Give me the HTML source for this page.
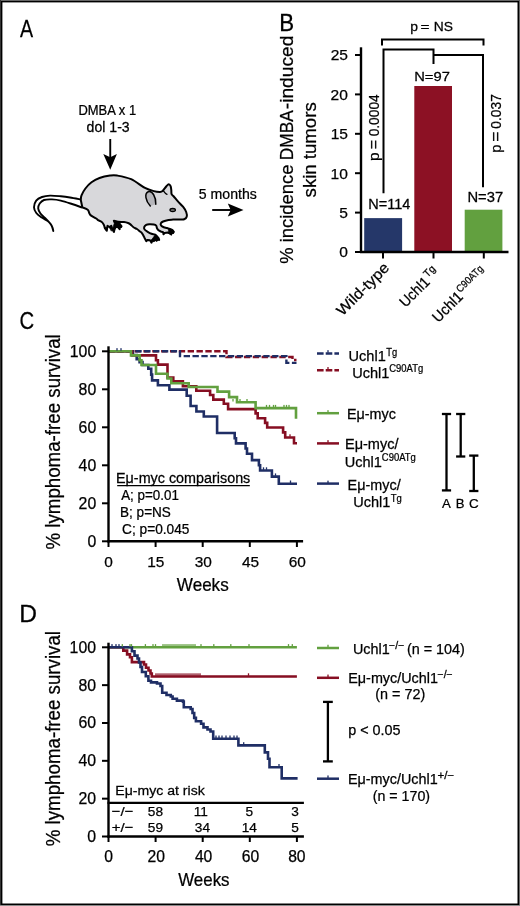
<!DOCTYPE html>
<html><head><meta charset="utf-8"><style>
html,body{margin:0;padding:0;background:#fff;}
svg{display:block;will-change:transform;}
text{font-family:"Liberation Sans", sans-serif;stroke:#000;stroke-width:0.25px;}
</style></head><body>
<svg width="520" height="906" viewBox="0 0 520 906">
<rect x="0" y="0" width="520" height="906" fill="#666"/>
<rect x="0" y="0" width="1" height="906" fill="#333"/>
<rect x="0" y="905" width="520" height="1" fill="#8a8a8a"/>
<rect x="1" y="1" width="518" height="904" fill="#000"/>
<rect x="2.4" y="2.4" width="515.1" height="901.1" fill="#fff"/>
<text transform="translate(19.96,36.9) scale(0.8,1)" font-size="24.56" fill="#000">A</text>
<text transform="translate(78.43,114.9) scale(0.94,1)" font-size="13.81" fill="#000">DMBA x 1</text>
<text transform="translate(86.61,132.3) scale(1.02,1)" font-size="13.81" fill="#000">dol 1-3</text>
<line x1="110.25" y1="139" x2="110.25" y2="158" stroke="#000" stroke-width="1.9"/>
<polygon points="103.3,154.1 110.25,157.2 116.9,154 110.25,169.8" fill="#000"/>
<text transform="translate(198.83,198.6) scale(0.98,1)" font-size="14.39" fill="#000">5 months</text>
<line x1="212.2" y1="210" x2="231" y2="210" stroke="#000" stroke-width="1.9"/>
<polygon points="227.8,203.5 230.7,210 227.8,216.5 243.5,210" fill="#000"/>
<path d="M81,199.6 C79.17,199.25 73.37,198.05 70,197.5 C66.63,196.95 64.13,196.62 60.8,196.3 C57.47,195.98 53.13,195.48 50,195.6 C46.87,195.72 44.3,196.17 42,197 C39.7,197.83 37.53,198.88 36.2,200.6 C34.87,202.32 33.98,205.23 34,207.3 C34.02,209.37 35,211.28 36.3,213 C37.6,214.72 39.97,216.3 41.8,217.6 C43.63,218.9 45.85,219.77 47.3,220.8 C48.75,221.83 49.63,222.68 50.5,223.8 C51.37,224.92 52.03,226.3 52.5,227.5 C52.97,228.7 53.17,230.42 53.3,231 L53.3,231 C53.05,230.17 52.52,227.47 51.8,226 C51.08,224.53 50.13,223.53 49,222.2 C47.87,220.87 46.45,219.5 45,218 C43.55,216.5 41.43,214.8 40.3,213.2 C39.17,211.6 38.3,210.02 38.2,208.4 C38.1,206.78 38.73,204.9 39.7,203.5 C40.67,202.1 41.95,200.68 44,200 C46.05,199.32 49.2,199.3 52,199.4 C54.8,199.5 57.47,199.83 60.8,200.6 C64.13,201.37 68.47,202.85 72,204 C75.53,205.15 80.33,206.92 82,207.5" fill="#fff" stroke="#000" stroke-width="1.9" stroke-linejoin="round"/>
<path d="M80.8,200 C80.92,199.23 80.73,197.32 81.5,195.4 C82.27,193.48 83.73,190.68 85.4,188.5 C87.07,186.32 89.15,184.05 91.5,182.3 C93.85,180.55 96.42,179.12 99.5,178 C102.58,176.88 107.03,176 110,175.6 C112.97,175.2 113.78,175 117.3,175.6 C120.82,176.2 126.48,177.15 131.1,179.2 C135.72,181.25 141.22,185.92 145,187.9 C148.78,189.88 151.3,190.43 153.8,191.1 C156.3,191.77 158.53,191.92 160,191.9 C161.47,191.88 161.57,191.9 162.6,191 C163.63,190.1 165.17,187.63 166.2,186.5 C167.23,185.37 168.07,184.25 168.8,184.2 C169.53,184.15 170.18,185.23 170.6,186.2 C171.02,187.17 171.13,188.67 171.3,190 C171.47,191.33 171.18,193.12 171.6,194.2 C172.02,195.28 172.78,195.33 173.8,196.5 C174.82,197.67 176.17,199.5 177.7,201.2 C179.23,202.9 181.58,204.9 183,206.7 C184.42,208.5 185.58,210.32 186.2,212 C186.82,213.68 187.03,215.58 186.7,216.8 C186.37,218.02 185.32,218.87 184.2,219.3 C183.08,219.73 181.85,219.35 180,219.4 C178.15,219.45 175.02,219.52 173.1,219.6 C171.18,219.68 170.17,219.58 168.5,219.9 C166.83,220.22 164.38,220.92 163.1,221.5 C161.82,222.08 161.12,222.7 160.8,223.4 C160.48,224.1 160.7,225.07 161.2,225.7 C161.7,226.33 162.85,226.82 163.8,227.2 C164.75,227.58 166,227.73 166.9,228 C167.8,228.27 168.82,228.67 169.2,228.8 L172.3,229.9 L173.8,231.8 L173.1,233 L171.5,232.2 L171.2,234.5 L169.6,233.4 L167.7,232.6 L164.6,233 L163.5,234.2 L163.1,232.2 L160.8,231.5 C160.42,231.3 159.15,230.88 158.5,230.3 C157.85,229.72 157.28,228.77 156.9,228 C156.52,227.23 156.72,226.28 156.2,225.7 C155.68,225.12 154.97,224.75 153.8,224.5 C152.63,224.25 150.47,224.13 149.2,224.2 C147.93,224.27 147.03,224.4 146.2,224.9 C145.37,225.4 144.47,226.43 144.2,227.2 C143.93,227.97 144.02,228.73 144.6,229.5 C145.18,230.27 146.55,231.08 147.7,231.8 C148.85,232.52 150.35,233.35 151.5,233.8 C152.65,234.25 153.77,234.18 154.6,234.5 C155.43,234.82 155.85,235.12 156.5,235.7 C157.15,236.28 158.17,237.62 158.5,238 L159.2,239.9 L157.7,239.5 L156.5,240.7 L155.4,239.2 L153.8,241.1 L152.7,239.5 L151.5,242.6 L150,240.3 L147.7,239.9 L146.2,241.1 L144.6,238 C144.35,237.48 143.62,235.8 143.1,234.9 C142.58,234 142.02,233.17 141.5,232.6 C140.98,232.03 140.77,232.1 140,231.5 C139.23,230.9 137.98,229.7 136.9,229 C135.82,228.3 134.58,228.07 133.5,227.3 C132.42,226.53 131.32,225.12 130.4,224.4 C129.48,223.68 129.07,223.38 128,223 C126.93,222.62 125.63,222.3 124,222.1 C122.37,221.9 119.87,222.02 118.2,221.8 C116.53,221.58 114.7,220.97 114,220.8 L117.5,223.2 L121.5,226.2 L121.1,227 L119.8,226.2 L119.6,229.3 L118.3,227.3 L116,226.6 L114.7,228.7 L113.9,231.9 L112.4,229.3 L111.3,225.8 L109.5,227 L107.5,225.8 L106.7,230.8 L104.9,228.2 C104.72,227.62 104.37,225.77 103.8,224.7 C103.23,223.63 102.47,222.57 101.5,221.8 C100.53,221.03 98.88,220.65 98,220.1 C97.12,219.55 97.4,219.28 96.2,218.5 C95,217.72 91.97,216.32 90.8,215.4 C89.63,214.48 89.72,213.95 89.2,213 C88.68,212.05 88.85,210.65 87.7,209.7 C86.55,208.75 83.2,207.7 82.3,207.3 Z" fill="#d8d8db" stroke="#000" stroke-width="2" stroke-linejoin="round"/>
<polygon points="113.2,220.6 117,221.3 120.5,223.5 121.9,226 121.1,227.4 119.9,226.8 119.7,229.6 118.3,228 116.4,227.3 114.9,228.8 114,232.2 112.6,229.2 113.4,226 114.2,223.5" fill="#000" stroke="#000" stroke-width="0.6" stroke-linejoin="round"/>
<polygon points="168.3,228.4 170.8,229 173,230.2 174.1,232 173.2,233.3 171.6,232.6 171.3,234.8 169.6,233.7 168.2,233 168.6,231" fill="#000" stroke="#000" stroke-width="0.6" stroke-linejoin="round"/>
<polygon points="154.6,235.6 156.9,236.2 158.7,238.2 159.4,240.2 157.8,239.9 156.6,241.1 155.4,239.7 153.9,241.4 152.7,239.9 151.6,242.9 150.9,240.5 152.5,238.6" fill="#000" stroke="#000" stroke-width="0.6" stroke-linejoin="round"/>
<polygon points="104.2,227.8 105.5,229.6 106.8,231 107.6,228.8 106.5,227.2" fill="#000" stroke="#000" stroke-width="0.6" stroke-linejoin="round"/>
<polygon points="108.6,226.8 110.2,229 111.3,231.2 112,228.6 110.6,226.2" fill="#000" stroke="#000" stroke-width="0.6" stroke-linejoin="round"/>
<path d="M150.3,206 C145.5,201 144.2,193.5 148.2,191.8 C152.2,190.3 156.2,197 155.8,204.3" fill="#b5b5ba" stroke="#000" stroke-width="1.5" stroke-linecap="round"/>
<path d="M163.2,190.6 C164.5,192.5 165.8,193.8 167,194.3" fill="none" stroke="#000" stroke-width="1.3" stroke-linecap="round"/>
<ellipse cx="172.7" cy="210" rx="2.7" ry="1.5" fill="#888" stroke="#000" stroke-width="1.3"/>
<text transform="translate(279.37,30.5) scale(0.92,1)" font-size="24.27" fill="#000">B</text>
<text transform="translate(292.8,263.85) rotate(-90) scale(0.97,1)" font-size="19" fill="#000">% incidence</text>
<text transform="translate(292.8,160.22) rotate(-90) scale(0.91,1)" font-size="19" fill="#000">DMBA</text>
<text transform="translate(292.8,109.25) rotate(-90) scale(1.01,1)" font-size="19" fill="#000">-induced</text>
<text transform="translate(316.2,197.42) rotate(-90) scale(0.98,1)" font-size="19" fill="#000">skin tumors</text>
<rect x="364.2" y="218.12" width="37.9" height="32.88" fill="#253769"/>
<rect x="414.3" y="86" width="37.7" height="165" fill="#8c1124"/>
<rect x="464.7" y="209.7" width="37.7" height="41.3" fill="#62a03f"/>
<line x1="361" y1="47.3" x2="361" y2="253" stroke="#000" stroke-width="2.4"/>
<line x1="360" y1="252" x2="508.5" y2="252" stroke="#000" stroke-width="2.4"/>
<line x1="355" y1="252" x2="361" y2="252" stroke="#000" stroke-width="2"/>
<text transform="translate(339.26,257.3) scale(1,1)" font-size="15.55" fill="#000">0</text>
<line x1="355" y1="212.6" x2="361" y2="212.6" stroke="#000" stroke-width="2"/>
<text transform="translate(339.3,217.9) scale(1,1)" font-size="15.55" fill="#000">5</text>
<line x1="355" y1="173.2" x2="361" y2="173.2" stroke="#000" stroke-width="2"/>
<text transform="translate(330.61,178.5) scale(1,1)" font-size="15.55" fill="#000">10</text>
<line x1="355" y1="133.8" x2="361" y2="133.8" stroke="#000" stroke-width="2"/>
<text transform="translate(330.65,139.1) scale(1,1)" font-size="15.55" fill="#000">15</text>
<line x1="355" y1="94.4" x2="361" y2="94.4" stroke="#000" stroke-width="2"/>
<text transform="translate(330.61,99.7) scale(1,1)" font-size="15.55" fill="#000">20</text>
<line x1="355" y1="55" x2="361" y2="55" stroke="#000" stroke-width="2"/>
<text transform="translate(330.65,60.3) scale(1,1)" font-size="15.55" fill="#000">25</text>
<line x1="383" y1="252" x2="383" y2="258.5" stroke="#000" stroke-width="2"/>
<line x1="433.5" y1="252" x2="433.5" y2="258.5" stroke="#000" stroke-width="2"/>
<line x1="483.8" y1="252" x2="483.8" y2="258.5" stroke="#000" stroke-width="2"/>
<text transform="translate(368.21,209.2) scale(1.04,1)" font-size="13.95" fill="#000">N=114</text>
<text transform="translate(414.19,80.6) scale(1.08,1)" font-size="13.66" fill="#000">N=97</text>
<text transform="translate(467.38,202) scale(1.06,1)" font-size="13.95" fill="#000">N=37</text>
<polyline points="382,45.5 382,39.5 483.5,39.5 483.5,45.5" fill="none" stroke="#000" stroke-width="2"/>
<polyline points="383.5,193.2 383.5,49.5 433.5,49.5 433.5,64" fill="none" stroke="#000" stroke-width="2"/>
<polyline points="433.5,55 483,55 483,187.3" fill="none" stroke="#000" stroke-width="2"/>
<text transform="translate(410.35,30.5) scale(1.07,1)" font-size="13" fill="#000">p</text>
<text transform="translate(420.5,30.5) scale(1.19,1)" font-size="13" fill="#000">=</text>
<text transform="translate(433.86,30.5) scale(1.07,1)" font-size="12.94" fill="#000">NS</text>
<text transform="translate(378.7,160.99) rotate(-90) scale(1.04,1)" font-size="14.8" fill="#000">p</text>
<text transform="translate(378.7,149.28) rotate(-90) scale(1.08,1)" font-size="14.8" fill="#000">=</text>
<text transform="translate(378.7,136.34) rotate(-90) scale(0.91,1)" font-size="15.12" fill="#000">0.0004</text>
<text transform="translate(501.3,152.65) rotate(-90) scale(0.99,1)" font-size="14.8" fill="#000">p</text>
<text transform="translate(501.3,141.64) rotate(-90) scale(1.17,1)" font-size="14.8" fill="#000">=</text>
<text transform="translate(501.3,128.64) rotate(-90) scale(0.93,1)" font-size="14.83" fill="#000">0.037</text>
<g transform="translate(389.5,269.4) rotate(-45)"><text transform="translate(-66.57,0) scale(1.08,1)" font-size="15" fill="#000">Wild-type</text></g>
<g transform="translate(430.3,283.3) rotate(-45)"><text transform="translate(-35.08,0) scale(0.93,1)" font-size="15" fill="#000">Uchl1</text><text transform="translate(1.76,-5.8) scale(1,1)" font-size="10.5" fill="#000">Tg</text></g>
<g transform="translate(463.4,298.1) rotate(-45)"><text transform="translate(-35.6,0) scale(0.95,1)" font-size="15" fill="#000">Uchl1</text><text transform="translate(1.43,-5.8) scale(0.9,1)" font-size="10.3" fill="#000">C90ATg</text></g>
<text transform="translate(19.47,329.1) scale(0.82,1)" font-size="24.71" fill="#000">C</text>
<text transform="translate(59.7,549.57) rotate(-90) scale(0.96,1)" font-size="19.5" fill="#000">% lymphoma-free survival</text>
<polyline points="108.5,351.3 226.5,351.3 226.5,357 292.5,357 292.5,360 296.5,360" fill="none" stroke="#860e22" stroke-width="2.4" stroke-dasharray="6.35,2.5" stroke-dashoffset="0.5"/>
<polyline points="108.5,351.3 180,351.3 180,356.1 286.4,356.1 286.4,362.9 296.5,362.9" fill="none" stroke="#1f2e65" stroke-width="2.4" stroke-dasharray="6.35,2.5" stroke-dashoffset="-0.3"/>
<polyline points="108.5,351.3 132.9,351.3 132.9,355 136.7,355 136.7,359.2 139.6,359.2 139.6,362.1 142.5,362.1 142.5,365 148.3,365 148.3,368.8 151.2,368.8 151.2,374.6 152.1,374.6 152.1,380.4 157.9,380.4 157.9,385.2 169.4,385.2 169.4,389.6 186.7,389.6 186.7,395.8 190.6,395.8 190.6,406 196.4,406 196.4,411.5 203.8,411.5 203.8,416.5 217.1,416.5 217.1,433 234.7,433 234.7,438.2 236,438.2 236,443.4 245.6,443.4 245.6,448.5 247,448.5 247,453.7 252,453.7 252,460.1 258.9,460.1 258.9,465.3 260.1,465.3 260.1,470.5 271.9,470.5 271.9,476.6 278.8,476.6 278.8,483.7 297,483.7" fill="none" stroke="#1f2e65" stroke-width="2.6"/>
<polyline points="108.5,351.3 132,351.3 132,355.4 156,355.4 156,360.2 157.9,360.2 157.9,364.6 167.5,364.6 167.5,377.5 173.3,377.5 173.3,381.3 182.9,381.3 182.9,386.2 196.3,386.2 196.3,390.7 210.1,390.7 210.1,395 213.3,395 213.3,399.6 223.8,399.6 223.8,403.8 228.1,403.8 228.1,409.1 255.6,409.1 255.6,413.4 257.7,413.4 257.7,418.2 265.1,418.2 265.1,422.9 267.2,422.9 267.2,427.5 283.1,427.5 283.1,432.4 285.2,432.4 285.2,437.5 294,437.5 294,443.2 297,443.2" fill="none" stroke="#860e22" stroke-width="2.6"/>
<polyline points="108.5,351.3 131,351.3 131,355.4 139.6,355.4 139.6,360.2 141.5,360.2 141.5,365 156,365 156,373.7 167.5,373.7 167.5,378.5 171.3,378.5 171.3,383.3 188.7,383.3 188.7,387 217.5,387 217.5,391.6 229.1,391.6 229.1,397.1 237,397.1 237,402.2 255.6,402.2 255.6,408.1 296,408.1 296,418.8" fill="none" stroke="#62a03f" stroke-width="2.6"/>
<line x1="108.5" y1="346.3" x2="108.5" y2="542.4" stroke="#000" stroke-width="2.4"/>
<line x1="107.5" y1="541.3" x2="303.1" y2="541.3" stroke="#000" stroke-width="2.4"/>
<line x1="102" y1="541.3" x2="108.5" y2="541.3" stroke="#000" stroke-width="2"/>
<text transform="translate(87.41,546.7) scale(1,1)" font-size="15.84" fill="#000">0</text>
<line x1="102" y1="503.3" x2="108.5" y2="503.3" stroke="#000" stroke-width="2"/>
<text transform="translate(78.6,508.7) scale(1,1)" font-size="15.84" fill="#000">20</text>
<line x1="102" y1="465.3" x2="108.5" y2="465.3" stroke="#000" stroke-width="2"/>
<text transform="translate(78.6,470.7) scale(1,1)" font-size="15.84" fill="#000">40</text>
<line x1="102" y1="427.3" x2="108.5" y2="427.3" stroke="#000" stroke-width="2"/>
<text transform="translate(78.6,432.7) scale(1,1)" font-size="15.84" fill="#000">60</text>
<line x1="102" y1="389.3" x2="108.5" y2="389.3" stroke="#000" stroke-width="2"/>
<text transform="translate(78.6,394.7) scale(1,1)" font-size="15.84" fill="#000">80</text>
<line x1="102" y1="351.3" x2="108.5" y2="351.3" stroke="#000" stroke-width="2"/>
<text transform="translate(69.79,356.7) scale(1,1)" font-size="15.84" fill="#000">100</text>
<line x1="108.5" y1="541.3" x2="108.5" y2="547" stroke="#000" stroke-width="2"/>
<text transform="translate(104.22,567.1) scale(1,1)" font-size="15.41" fill="#000">0</text>
<line x1="155.6" y1="541.3" x2="155.6" y2="547" stroke="#000" stroke-width="2"/>
<text transform="translate(147.27,567.1) scale(1,1)" font-size="15.41" fill="#000">15</text>
<line x1="202.7" y1="541.3" x2="202.7" y2="547" stroke="#000" stroke-width="2"/>
<text transform="translate(194.64,567.1) scale(1,1)" font-size="15.41" fill="#000">30</text>
<line x1="249.8" y1="541.3" x2="249.8" y2="547" stroke="#000" stroke-width="2"/>
<text transform="translate(241.88,567.1) scale(1,1)" font-size="15.41" fill="#000">45</text>
<line x1="296.9" y1="541.3" x2="296.9" y2="547" stroke="#000" stroke-width="2"/>
<text transform="translate(288.74,567.1) scale(1,1)" font-size="15.41" fill="#000">60</text>
<text transform="translate(176.83,590.8) scale(0.94,1)" font-size="18.17" fill="#000">Weeks</text>
<text transform="translate(116.02,482.5) scale(1.04,1)" font-size="13.81" fill="#000">Eμ-myc comparisons</text>
<line x1="117.2" y1="485.6" x2="249.8" y2="485.6" stroke="#000" stroke-width="1.1"/>
<text transform="translate(121.17,499.7) scale(0.97,1)" font-size="13.81" fill="#000">A; p=0.01</text>
<text transform="translate(120.09,516.5) scale(0.98,1)" font-size="13.81" fill="#000">B; p=NS</text>
<text transform="translate(122.11,534.1) scale(0.99,1)" font-size="13.81" fill="#000">C; p=0.045</text>
<polyline points="317,353.4 339,353.4" fill="none" stroke="#1f2e65" stroke-width="2.5" stroke-dasharray="6.6,2.1"/>
<polyline points="317,370.3 339,370.3" fill="none" stroke="#860e22" stroke-width="2.5" stroke-dasharray="6.6,2.1"/>
<line x1="317" y1="413.2" x2="339" y2="413.2" stroke="#62a03f" stroke-width="2.5"/>
<line x1="317" y1="443.4" x2="339" y2="443.4" stroke="#860e22" stroke-width="2.5"/>
<line x1="317" y1="483.6" x2="339" y2="483.6" stroke="#1f2e65" stroke-width="2.5"/>
<text transform="translate(348.58,361.2) scale(1,1)" font-size="14.54" fill="#000">Uchl1</text>
<text transform="translate(386.29,355.5) scale(0.92,1)" font-size="10.17" fill="#000">Tg</text>
<text transform="translate(352.28,377.6) scale(1,1)" font-size="14.54" fill="#000">Uchl1</text>
<text transform="translate(389.22,372) scale(0.93,1)" font-size="10.17" fill="#000">C90ATg</text>
<text transform="translate(346.92,418.5) scale(1.04,1)" font-size="13.81" fill="#000">Eμ-myc</text>
<text transform="translate(345.01,448.5) scale(1.03,1)" font-size="14.1" fill="#000">Eμ-myc/</text>
<text transform="translate(344.68,467) scale(1,1)" font-size="14.54" fill="#000">Uchl1</text>
<text transform="translate(381.82,461.4) scale(0.93,1)" font-size="10.17" fill="#000">C90ATg</text>
<text transform="translate(347.62,489.6) scale(1.02,1)" font-size="14.1" fill="#000">Eμ-myc/</text>
<text transform="translate(353.18,507.4) scale(1,1)" font-size="14.54" fill="#000">Uchl1</text>
<text transform="translate(390.79,501.7) scale(0.93,1)" font-size="10.17" fill="#000">Tg</text>
<line x1="446.5" y1="414" x2="446.5" y2="490.4" stroke="#000" stroke-width="2.3"/>
<line x1="441.9" y1="414" x2="451.1" y2="414" stroke="#000" stroke-width="2.3"/>
<line x1="441.9" y1="490.4" x2="451.1" y2="490.4" stroke="#000" stroke-width="2.3"/>
<line x1="460.7" y1="414" x2="460.7" y2="456.5" stroke="#000" stroke-width="2.3"/>
<line x1="456.1" y1="414" x2="465.3" y2="414" stroke="#000" stroke-width="2.3"/>
<line x1="456.1" y1="456.5" x2="465.3" y2="456.5" stroke="#000" stroke-width="2.3"/>
<line x1="473.8" y1="455.6" x2="473.8" y2="491" stroke="#000" stroke-width="2.3"/>
<line x1="469.2" y1="455.6" x2="478.4" y2="455.6" stroke="#000" stroke-width="2.3"/>
<line x1="469.2" y1="491" x2="478.4" y2="491" stroke="#000" stroke-width="2.3"/>
<text transform="translate(442.07,508.3) scale(0.97,1)" font-size="13.66" fill="#000">A</text>
<text transform="translate(455.82,508.3) scale(0.96,1)" font-size="13.66" fill="#000">B</text>
<text transform="translate(469.02,508.3) scale(0.98,1)" font-size="13.66" fill="#000">C</text>
<text transform="translate(19.18,621.9) scale(1.05,1)" font-size="23.4" fill="#000">D</text>
<text transform="translate(59.5,846.27) rotate(-90) scale(0.96,1)" font-size="19.5" fill="#000">% lymphoma-free survival</text>
<polyline points="108.5,647.3 296.9,647.3" fill="none" stroke="#62a03f" stroke-width="2.6"/>
<polyline points="108.5,647.3 123.3,647.3 123.3,650.6 127.1,650.6 127.1,654.4 130,654.4 130,657.3 131.9,657.3 131.9,662.1 144,662.1 144,664.5 146,664.5 146,667.7 148.5,667.7 148.5,670.5 150.5,670.5 150.5,673.5 151.8,673.5 151.8,676.5 296.9,676.5" fill="none" stroke="#860e22" stroke-width="2.6"/>
<polyline points="108.5,647.3 131.9,647.3 131.9,651.2 134.5,651.2 134.5,655.6 137.5,655.6 137.5,658.5 139,658.5 139,662.5 140.5,662.5 140.5,667 142,667 142,672 145.8,672 145.8,676.3 148.4,676.3 148.4,680.7 151,680.7 151,682.4 157,682.4 157,683.5 160.5,683.5 160.5,686 162.2,686 162.2,692.8 166.5,692.8 166.5,695 170.8,695 170.8,696.5 172.6,696.5 172.6,698.8 176.9,698.8 176.9,700.6 183,700.6 183,701.6 183.8,701.6 183.8,707.3 190.7,707.3 190.7,709 192.5,709 192.5,713 194.2,713 194.2,717.9 195.9,717.9 195.9,721.3 201.1,721.3 201.1,723.8 203.5,723.8 203.5,727.4 207.5,727.4 207.5,729.5 210.5,729.5 210.5,731.5 213.2,731.5 213.2,738.7 238.4,738.7 238.4,745.4 264.8,745.4 264.8,752.4 268,752.4 268,758.8 269.5,758.8 269.5,767.2 281.7,767.2 281.7,778.4 297.6,778.4" fill="none" stroke="#1f2e65" stroke-width="2.6"/>
<line x1="108.5" y1="642.7" x2="108.5" y2="837.6" stroke="#000" stroke-width="2.4"/>
<line x1="107.5" y1="836.5" x2="303.9" y2="836.5" stroke="#000" stroke-width="2.4"/>
<line x1="107.5" y1="802.9" x2="303.9" y2="802.9" stroke="#000" stroke-width="2.4"/>
<line x1="102" y1="836.5" x2="108.5" y2="836.5" stroke="#000" stroke-width="2"/>
<text transform="translate(87.21,841.9) scale(1,1)" font-size="15.84" fill="#000">0</text>
<line x1="102" y1="798.66" x2="108.5" y2="798.66" stroke="#000" stroke-width="2"/>
<text transform="translate(78.4,804.06) scale(1,1)" font-size="15.84" fill="#000">20</text>
<line x1="102" y1="760.82" x2="108.5" y2="760.82" stroke="#000" stroke-width="2"/>
<text transform="translate(78.4,766.22) scale(1,1)" font-size="15.84" fill="#000">40</text>
<line x1="102" y1="722.98" x2="108.5" y2="722.98" stroke="#000" stroke-width="2"/>
<text transform="translate(78.4,728.38) scale(1,1)" font-size="15.84" fill="#000">60</text>
<line x1="102" y1="685.14" x2="108.5" y2="685.14" stroke="#000" stroke-width="2"/>
<text transform="translate(78.4,690.54) scale(1,1)" font-size="15.84" fill="#000">80</text>
<line x1="102" y1="647.3" x2="108.5" y2="647.3" stroke="#000" stroke-width="2"/>
<text transform="translate(69.59,652.7) scale(1,1)" font-size="15.84" fill="#000">100</text>
<line x1="108.5" y1="836.5" x2="108.5" y2="842" stroke="#000" stroke-width="2"/>
<text transform="translate(104.13,862.3) scale(1,1)" font-size="15.7" fill="#000">0</text>
<line x1="155.6" y1="836.5" x2="155.6" y2="842" stroke="#000" stroke-width="2"/>
<text transform="translate(147.58,862.3) scale(1,1)" font-size="15.7" fill="#000">20</text>
<line x1="202.7" y1="836.5" x2="202.7" y2="842" stroke="#000" stroke-width="2"/>
<text transform="translate(194.9,862.3) scale(1,1)" font-size="15.7" fill="#000">40</text>
<line x1="249.8" y1="836.5" x2="249.8" y2="842" stroke="#000" stroke-width="2"/>
<text transform="translate(241.78,862.3) scale(1,1)" font-size="15.7" fill="#000">60</text>
<line x1="296.9" y1="836.5" x2="296.9" y2="842" stroke="#000" stroke-width="2"/>
<text transform="translate(288.14,862.3) scale(1,1)" font-size="15.7" fill="#000">80</text>
<text transform="translate(178.23,886) scale(0.93,1)" font-size="18.17" fill="#000">Weeks</text>
<text transform="translate(115.35,794.8) scale(1.03,1)" font-size="13.66" fill="#000">Eμ-myc at risk</text>
<text transform="translate(111.76,816.3) scale(1.1,1)" font-size="13.66" fill="#000">−/−</text>
<text transform="translate(111.77,831.7) scale(1.1,1)" font-size="13.66" fill="#000">+/−</text>
<text transform="translate(147.82,816.3) scale(1,1)" font-size="13.66" fill="#000">58</text>
<text transform="translate(193.71,816.3) scale(1,1)" font-size="13.66" fill="#000">11</text>
<text transform="translate(245.61,816.3) scale(1,1)" font-size="13.66" fill="#000">5</text>
<text transform="translate(291.34,816.3) scale(1,1)" font-size="13.66" fill="#000">3</text>
<text transform="translate(147.85,831.7) scale(1,1)" font-size="13.66" fill="#000">59</text>
<text transform="translate(194.84,831.7) scale(1,1)" font-size="13.66" fill="#000">34</text>
<text transform="translate(241.68,831.7) scale(1,1)" font-size="13.66" fill="#000">14</text>
<text transform="translate(291.31,831.7) scale(1,1)" font-size="13.66" fill="#000">5</text>
<line x1="317" y1="648" x2="339" y2="648" stroke="#62a03f" stroke-width="2.5"/>
<line x1="317" y1="677.8" x2="339" y2="677.8" stroke="#860e22" stroke-width="2.5"/>
<line x1="317" y1="778.7" x2="339" y2="778.7" stroke="#1f2e65" stroke-width="2.5"/>
<text transform="translate(352.89,654.1) scale(1,1)" font-size="14.39" fill="#000">Uchl1</text>
<text transform="translate(389.08,649) scale(1.04,1)" font-size="10.17" fill="#000">−/−</text>
<text transform="translate(406.91,654.1) scale(1,1)" font-size="14.39" fill="#000">(n = 104)</text>
<text transform="translate(348.22,682.7) scale(1,1)" font-size="14.39" fill="#000">Eμ-myc/Uchl1</text>
<text transform="translate(437.48,677.6) scale(1.04,1)" font-size="10.17" fill="#000">−/−</text>
<text transform="translate(375.31,699) scale(1,1)" font-size="14.39" fill="#000">(n = 72)</text>
<line x1="327.9" y1="701.9" x2="327.9" y2="761.4" stroke="#000" stroke-width="2.3"/>
<line x1="323" y1="701.9" x2="332.8" y2="701.9" stroke="#000" stroke-width="2.3"/>
<line x1="323" y1="761.4" x2="332.8" y2="761.4" stroke="#000" stroke-width="2.3"/>
<text transform="translate(348.18,734.6) scale(1,1)" font-size="14.39" fill="#000">p &lt; 0.05</text>
<text transform="translate(347.91,784.3) scale(1,1)" font-size="14.39" fill="#000">Eμ-myc/Uchl1</text>
<text transform="translate(437.43,779.2) scale(1.14,1)" font-size="10.17" fill="#000">+/−</text>
<text transform="translate(372.72,801) scale(0.99,1)" font-size="14.39" fill="#000">(n = 170)</text>
<rect x="116.35" y="348.15" width="1.3" height="2.5" fill="#1f2e65"/>
<rect x="120.35" y="348.15" width="1.3" height="2.5" fill="#1f2e65"/>
<rect x="265.85" y="404.9" width="1.3" height="2.5" fill="#62a03f"/>
<rect x="268.85" y="404.9" width="1.3" height="2.5" fill="#62a03f"/>
<rect x="272.85" y="404.9" width="1.3" height="2.5" fill="#62a03f"/>
<rect x="274.85" y="404.9" width="1.3" height="2.5" fill="#62a03f"/>
<rect x="283.35" y="404.9" width="1.3" height="2.5" fill="#62a03f"/>
<rect x="285.85" y="404.9" width="1.3" height="2.5" fill="#62a03f"/>
<rect x="288.35" y="404.9" width="1.3" height="2.5" fill="#62a03f"/>
<rect x="262.85" y="467.3" width="1.3" height="2.5" fill="#1f2e65"/>
<rect x="265.85" y="467.3" width="1.3" height="2.5" fill="#1f2e65"/>
<rect x="274.85" y="473.4" width="1.3" height="2.5" fill="#1f2e65"/>
<rect x="289.85" y="480.5" width="1.3" height="2.5" fill="#1f2e65"/>
<rect x="232.35" y="399" width="1.3" height="2.5" fill="#62a03f"/>
<rect x="239.35" y="399" width="1.3" height="2.5" fill="#62a03f"/>
<rect x="246.35" y="399" width="1.3" height="2.5" fill="#62a03f"/>
<rect x="289.35" y="434.3" width="1.3" height="2.5" fill="#860e22"/>
<rect x="121.65" y="644.1" width="1.3" height="2.5" fill="#62a03f"/>
<rect x="129.35" y="644.1" width="1.3" height="2.5" fill="#62a03f"/>
<rect x="130.85" y="644.1" width="1.3" height="2.5" fill="#62a03f"/>
<rect x="144.75" y="644.1" width="1.3" height="2.5" fill="#62a03f"/>
<rect x="152.35" y="644.1" width="1.3" height="2.5" fill="#62a03f"/>
<rect x="154.85" y="644.1" width="1.3" height="2.5" fill="#62a03f"/>
<rect x="162.35" y="644.1" width="1.3" height="2.5" fill="#62a03f"/>
<rect x="164.35" y="644.1" width="1.3" height="2.5" fill="#62a03f"/>
<rect x="166.35" y="644.1" width="1.3" height="2.5" fill="#62a03f"/>
<rect x="168.35" y="644.1" width="1.3" height="2.5" fill="#62a03f"/>
<rect x="170.35" y="644.1" width="1.3" height="2.5" fill="#62a03f"/>
<rect x="172.35" y="644.1" width="1.3" height="2.5" fill="#62a03f"/>
<rect x="174.35" y="644.1" width="1.3" height="2.5" fill="#62a03f"/>
<rect x="176.35" y="644.1" width="1.3" height="2.5" fill="#62a03f"/>
<rect x="178.35" y="644.1" width="1.3" height="2.5" fill="#62a03f"/>
<rect x="180.35" y="644.1" width="1.3" height="2.5" fill="#62a03f"/>
<rect x="182.35" y="644.1" width="1.3" height="2.5" fill="#62a03f"/>
<rect x="184.35" y="644.1" width="1.3" height="2.5" fill="#62a03f"/>
<rect x="186.35" y="644.1" width="1.3" height="2.5" fill="#62a03f"/>
<rect x="188.35" y="644.1" width="1.3" height="2.5" fill="#62a03f"/>
<rect x="190.35" y="644.1" width="1.3" height="2.5" fill="#62a03f"/>
<rect x="192.35" y="644.1" width="1.3" height="2.5" fill="#62a03f"/>
<rect x="194.35" y="644.1" width="1.3" height="2.5" fill="#62a03f"/>
<rect x="200.35" y="644.1" width="1.3" height="2.5" fill="#62a03f"/>
<rect x="213.15" y="644.1" width="1.3" height="2.5" fill="#62a03f"/>
<rect x="230.15" y="644.1" width="1.3" height="2.5" fill="#62a03f"/>
<rect x="248.35" y="644.1" width="1.3" height="2.5" fill="#62a03f"/>
<rect x="287.85" y="644.1" width="1.3" height="2.5" fill="#62a03f"/>
<rect x="291.65" y="644.1" width="1.3" height="2.5" fill="#62a03f"/>
<rect x="155.35" y="673.3" width="1.3" height="2.5" fill="#860e22"/>
<rect x="157.35" y="673.3" width="1.3" height="2.5" fill="#860e22"/>
<rect x="159.35" y="673.3" width="1.3" height="2.5" fill="#860e22"/>
<rect x="161.35" y="673.3" width="1.3" height="2.5" fill="#860e22"/>
<rect x="163.35" y="673.3" width="1.3" height="2.5" fill="#860e22"/>
<rect x="165.35" y="673.3" width="1.3" height="2.5" fill="#860e22"/>
<rect x="167.35" y="673.3" width="1.3" height="2.5" fill="#860e22"/>
<rect x="169.35" y="673.3" width="1.3" height="2.5" fill="#860e22"/>
<rect x="171.35" y="673.3" width="1.3" height="2.5" fill="#860e22"/>
<rect x="173.35" y="673.3" width="1.3" height="2.5" fill="#860e22"/>
<rect x="175.35" y="673.3" width="1.3" height="2.5" fill="#860e22"/>
<rect x="177.35" y="673.3" width="1.3" height="2.5" fill="#860e22"/>
<rect x="179.35" y="673.3" width="1.3" height="2.5" fill="#860e22"/>
<rect x="181.35" y="673.3" width="1.3" height="2.5" fill="#860e22"/>
<rect x="183.35" y="673.3" width="1.3" height="2.5" fill="#860e22"/>
<rect x="185.35" y="673.3" width="1.3" height="2.5" fill="#860e22"/>
<rect x="187.35" y="673.3" width="1.3" height="2.5" fill="#860e22"/>
<rect x="189.35" y="673.3" width="1.3" height="2.5" fill="#860e22"/>
<rect x="191.35" y="673.3" width="1.3" height="2.5" fill="#860e22"/>
<rect x="193.35" y="673.3" width="1.3" height="2.5" fill="#860e22"/>
<rect x="195.35" y="673.3" width="1.3" height="2.5" fill="#860e22"/>
<rect x="197.35" y="673.3" width="1.3" height="2.5" fill="#860e22"/>
<rect x="199.35" y="673.3" width="1.3" height="2.5" fill="#860e22"/>
<rect x="247.85" y="673.3" width="1.3" height="2.5" fill="#860e22"/>
<rect x="111.35" y="644.1" width="1.3" height="2.5" fill="#1f2e65"/>
<rect x="115.35" y="644.1" width="1.3" height="2.5" fill="#1f2e65"/>
<rect x="118.35" y="644.1" width="1.3" height="2.5" fill="#1f2e65"/>
<rect x="215.35" y="735.5" width="1.3" height="2.5" fill="#1f2e65"/>
<rect x="218.35" y="735.5" width="1.3" height="2.5" fill="#1f2e65"/>
<rect x="221.35" y="735.5" width="1.3" height="2.5" fill="#1f2e65"/>
<rect x="225.35" y="735.5" width="1.3" height="2.5" fill="#1f2e65"/>
<rect x="229.35" y="735.5" width="1.3" height="2.5" fill="#1f2e65"/>
<rect x="233.35" y="735.5" width="1.3" height="2.5" fill="#1f2e65"/>
<rect x="236.35" y="735.5" width="1.3" height="2.5" fill="#1f2e65"/>
<rect x="243.05" y="742.2" width="1.3" height="2.5" fill="#1f2e65"/>
<rect x="278.35" y="764" width="1.3" height="2.5" fill="#1f2e65"/>
<rect x="327.35" y="350.15" width="1.3" height="2.5" fill="#1f2e65"/>
<rect x="327.35" y="367.05" width="1.3" height="2.5" fill="#860e22"/>
<rect x="327.35" y="410.15" width="1.3" height="2.5" fill="#62a03f"/>
<rect x="327.35" y="440.15" width="1.3" height="2.5" fill="#860e22"/>
<rect x="327.35" y="480.65" width="1.3" height="2.5" fill="#1f2e65"/>
<rect x="327.35" y="644.75" width="1.3" height="2.5" fill="#62a03f"/>
<rect x="327.35" y="674.55" width="1.3" height="2.5" fill="#860e22"/>
<rect x="327.35" y="775.45" width="1.3" height="2.5" fill="#1f2e65"/>
</svg>
</body></html>
